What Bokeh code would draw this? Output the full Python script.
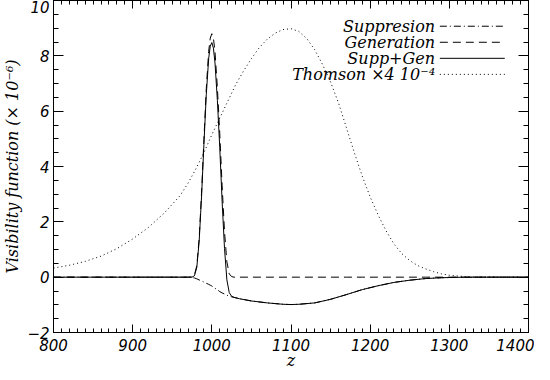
from bokeh.plotting import figure
from bokeh.models import Range1d, LinearAxis, SingleIntervalTicker, FixedTicker, Label, CustomJSTickFormatter
from bokeh.embed import file_html
from bokeh.resources import INLINE

# ---- data ----
z_peak = [800, 850, 900, 940, 960, 970, 975, 978, 981, 984, 987, 990, 993, 996, 998,
          1000, 1002, 1004, 1007, 1010, 1013, 1016, 1019, 1022, 1025, 1028,
          1035, 1050, 1070, 1090, 1100, 1110, 1130, 1150, 1170, 1190, 1210, 1230,
          1250, 1270, 1290, 1310, 1340, 1400]
generation = [0, 0, 0, 0, 0, 0, 0.01, 0.08, 0.41, 1.40, 3.04, 4.98, 6.82, 8.16, 8.64,
              8.80, 8.64, 8.14, 6.85, 5.20, 3.30, 1.65, 0.55, 0.12, 0.02, 0,
              0, 0, 0, 0, 0, 0, 0, 0, 0, 0, 0, 0,
              0, 0, 0, 0, 0, 0]
suppression = [0, 0, 0, 0, 0, 0, -0.01, -0.03, -0.06, -0.10, -0.14, -0.18, -0.22, -0.26, -0.29,
               -0.32, -0.36, -0.40, -0.46, -0.52, -0.57, -0.61, -0.65, -0.68, -0.71, -0.73,
               -0.78, -0.86, -0.93, -0.98, -0.99, -0.98, -0.93, -0.80, -0.63, -0.45, -0.31, -0.19,
               -0.11, -0.05, -0.02, -0.005, 0, 0]
supp_gen = [0, 0, 0, 0, 0, 0, 0, 0.05, 0.35, 1.30, 2.90, 4.80, 6.60, 7.90, 8.35,
            8.48, 8.28, 7.74, 6.39, 4.68, 2.73, 1.04, -0.10, -0.56, -0.69, -0.73,
            -0.78, -0.86, -0.93, -0.98, -0.99, -0.98, -0.93, -0.80, -0.63, -0.45, -0.31, -0.19,
            -0.11, -0.05, -0.02, -0.005, 0, 0]

z_thomson = [800, 820, 840, 860, 880, 900, 920, 940, 960, 970, 980, 990, 1000, 1010, 1020,
             1030, 1040, 1050, 1060, 1070, 1080, 1090, 1100, 1110, 1120, 1130, 1140, 1150,
             1160, 1170, 1180, 1190, 1200, 1210, 1220, 1230, 1240, 1250, 1260, 1270, 1280,
             1290, 1300, 1320, 1340, 1400]
thomson = [0.33, 0.43, 0.57, 0.76, 1.03, 1.38, 1.80, 2.32, 2.95, 3.40, 3.92, 4.50, 5.15, 5.75, 6.35,
           6.95, 7.45, 7.90, 8.30, 8.60, 8.82, 8.95, 8.98, 8.88, 8.62, 8.22, 7.68, 7.05,
           6.30, 5.40, 4.50, 3.65, 2.90, 2.25, 1.68, 1.20, 0.85, 0.60, 0.42, 0.30, 0.20,
           0.12, 0.07, 0.02, 0.005, 0]

legend_labels = ["Suppresion", "Generation", "Supp+Gen", "Thomson \u00d74 10\u207b\u2074"]
y_label = "Visibility function (\u00d7 10\u207b\u2076)"
x_label = "z"
y_tick_overrides = {-2: "\u22122"}

# ---- styles / layout ----
X_MIN, X_MAX = 800, 1400
Y_MIN, Y_MAX = -2, 10
DASH_SUPP = "7 3 1 3"
DASH_GEN = "8 5"
DASH_THOM = "1 3"
legend_dashes = [DASH_SUPP, DASH_GEN, "solid", DASH_THOM]
LEG_TEXT_X = 1282
LEG_LINE_X0 = 1288
LEG_LINE_X1 = 1370
LEG_Y0 = 9.07
LEG_DY = 0.58

SERIF = "DejaVu Serif"
SANS = "DejaVu Sans"

p = figure(width=534, height=372, output_backend="svg", toolbar_location=None,
           x_range=Range1d(X_MIN, X_MAX), y_range=Range1d(Y_MIN, Y_MAX),
           min_border_left=51, min_border_right=6, min_border_top=0, min_border_bottom=38,
           y_axis_label=y_label)
p.xgrid.visible = False
p.ygrid.visible = False
p.outline_line_color = "black"
p.background_fill_color = "white"
p.border_fill_color = "white"

xt = SingleIntervalTicker(interval=100, num_minor_ticks=10)
yt = SingleIntervalTicker(interval=2, num_minor_ticks=4)

def style_axis(ax, major, minor):
    ax.major_tick_in = major
    ax.major_tick_out = 0
    ax.minor_tick_in = minor
    ax.minor_tick_out = 0
    ax.axis_line_color = "black"
    ax.major_tick_line_color = "black"
    ax.minor_tick_line_color = "black"
    ax.major_label_text_font = SANS
    ax.major_label_text_font_style = "italic"
    ax.major_label_text_font_size = "15px"
    ax.major_label_text_color = "black"
    ax.axis_label_text_font = SERIF
    ax.axis_label_text_font_style = "italic"
    ax.axis_label_text_font_size = "16px"
    ax.axis_label_text_color = "black"

xa = p.xaxis[0]
ya = p.yaxis[0]
xa.ticker = xt
ya.ticker = yt
style_axis(xa, 8, 4)
style_axis(ya, 10, 5)
xa.major_label_standoff = 6
ya.major_label_standoff = 4
ya.axis_label_standoff = 2
ya.major_label_overrides = y_tick_overrides

blank = CustomJSTickFormatter(code="return ''")
top = LinearAxis(ticker=xt, formatter=blank)
right = LinearAxis(ticker=yt, formatter=blank)
style_axis(top, 8, 4)
style_axis(right, 10, 5)
top.major_label_standoff = 0
right.major_label_standoff = 0
p.add_layout(top, "above")
p.add_layout(right, "right")

# x-axis title "z": a second, tick-less axis below carrying one centred label
center_x = (X_MIN + X_MAX) / 2
xtitle = LinearAxis(ticker=FixedTicker(ticks=[center_x], minor_ticks=[]),
                    major_label_overrides={center_x: x_label})
xtitle.axis_line_color = None
xtitle.major_tick_line_color = None
xtitle.minor_tick_line_color = None
xtitle.major_tick_in = 0
xtitle.major_tick_out = 0
xtitle.major_label_text_font = SERIF
xtitle.major_label_text_font_style = "italic"
xtitle.major_label_text_font_size = "16px"
xtitle.major_label_text_color = "black"
xtitle.major_label_standoff = -3
p.add_layout(xtitle, "below")

# ---- curves ----
p.line(z_thomson, thomson, line_color="black", line_width=1, line_dash=DASH_THOM)
p.line(z_peak, suppression, line_color="black", line_width=1, line_dash=DASH_SUPP)
p.line(z_peak, generation, line_color="black", line_width=1, line_dash=DASH_GEN)
p.line(z_peak, supp_gen, line_color="black", line_width=1)

# ---- legend (text right, sample line on the right) ----
for i, (lab, dash) in enumerate(zip(legend_labels, legend_dashes)):
    yy = LEG_Y0 - i * LEG_DY
    p.segment(x0=[LEG_LINE_X0], y0=[yy], x1=[LEG_LINE_X1], y1=[yy],
              line_color="black", line_width=1, line_dash=dash)
    p.add_layout(Label(x=LEG_TEXT_X, y=yy, text=lab, text_align="right",
                       text_baseline="middle", text_font=SERIF, text_font_style="italic",
                       text_font_size="16px", text_color="black"))

open("out.html", "w").write(file_html(p, INLINE))
